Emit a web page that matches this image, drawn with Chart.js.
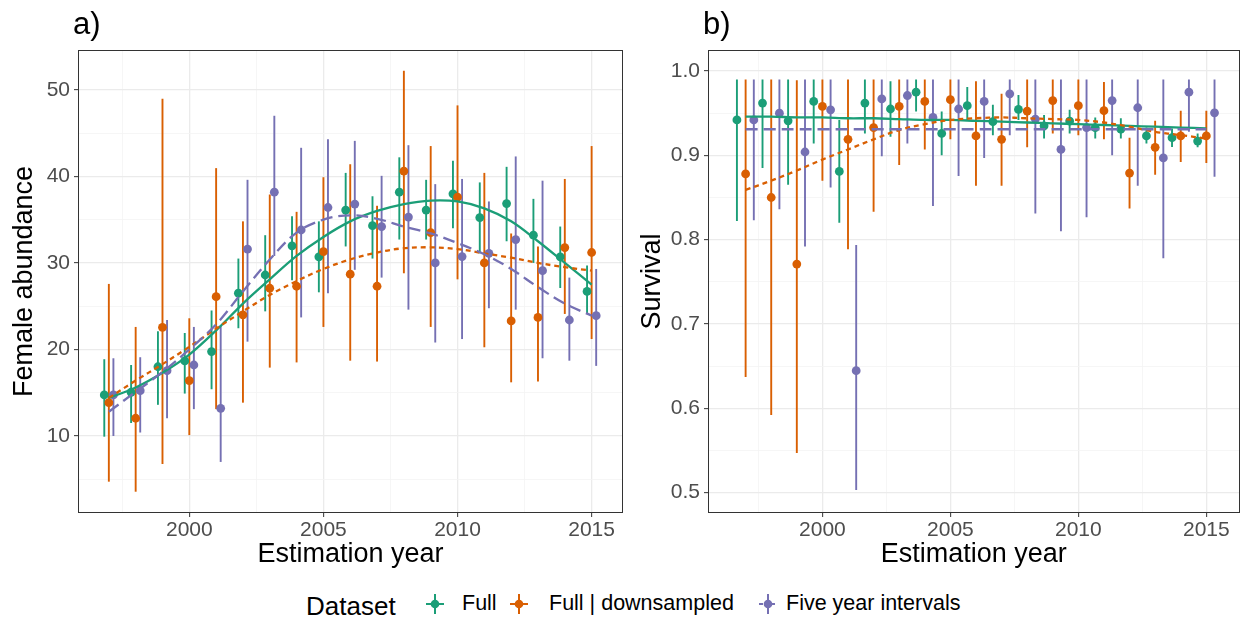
<!DOCTYPE html>
<html><head><meta charset="utf-8">
<script src="https://cdn.jsdelivr.net/npm/chart.js@4.4.1/dist/chart.umd.min.js"></script>
<style>
html,body{margin:0;padding:0;background:#fff}
body{width:1244px;height:621px;overflow:hidden;position:relative;font-family:"Liberation Sans",Arial,sans-serif}
canvas{position:absolute;top:0}
#ca{left:0}
#cb{left:630px}
.lg{position:absolute;white-space:nowrap;color:#000}
.lt{font-size:26px;line-height:30px;top:591px}
.li{font-size:21.5px;line-height:24px;top:591px}
.key{position:absolute;top:593px}
</style></head>
<body>
<canvas id="ca" width="630" height="580"></canvas>
<canvas id="cb" width="614" height="580"></canvas>
<div class="lg lt" style="left:306px">Dataset</div>
<svg class="key" style="left:424px" width="22" height="22"><line x1="2" y1="11" x2="20" y2="11" stroke="#1B9E77" stroke-width="2"/><line x1="11" y1="1" x2="11" y2="21" stroke="#1B9E77" stroke-width="2"/><circle cx="11" cy="11" r="4.3" fill="#1B9E77"/></svg>
<div class="lg li" style="left:462px">Full</div>
<svg class="key" style="left:508px" width="22" height="22"><line x1="2" y1="11" x2="20" y2="11" stroke="#D95F02" stroke-width="2"/><line x1="11" y1="1" x2="11" y2="21" stroke="#D95F02" stroke-width="2"/><circle cx="11" cy="11" r="4.3" fill="#D95F02"/></svg>
<div class="lg li" style="left:549px">Full | downsampled</div>
<svg class="key" style="left:757px" width="22" height="22"><line x1="2" y1="11" x2="20" y2="11" stroke="#7570B3" stroke-width="2" stroke-dasharray="4 2"/><line x1="11" y1="1" x2="11" y2="21" stroke="#7570B3" stroke-width="2"/><circle cx="11" cy="11" r="4.3" fill="#7570B3"/></svg>
<div class="lg li" style="left:786px">Five year intervals</div>
<script>
// ---------- data ----------
const YEARS = [1997,1998,1999,2000,2001,2002,2003,2004,2005,2006,2007,2008,2009,2010,2011,2012,2013,2014,2015];
const SERIES = ['Full','Full | downsampled','Five year intervals'];

// Panel a: Female abundance
const A_FULL_EST = [14.74,15.05,18.0,18.67,19.75,26.5,28.6,31.97,30.7,36.1,34.3,38.17,36.1,37.98,35.24,36.86,33.2,30.7,26.7];
const A_FULL_LO  = [9.92,11.5,13.6,14.9,15.4,22.45,24.4,28.0,26.6,31.9,30.5,32.7,32.7,34.0,31.1,32.5,30.0,27.1,24.1];
const A_FULL_HI  = [18.87,18.2,22.1,21.9,24.5,30.5,33.2,35.4,34.8,40.4,37.7,42.2,39.6,41.8,39.3,41.1,37.4,34.2,29.7];
const A_DOWN_EST = [13.85,12.05,22.55,16.4,26.1,24.0,27.07,27.3,31.3,28.7,27.3,40.6,33.5,37.6,30.0,23.3,23.7,31.77,31.2];
const A_DOWN_LO  = [4.72,3.56,6.76,10.1,13.1,13.85,17.9,18.5,22.6,18.7,18.6,28.8,22.6,28.1,20.25,16.2,16.3,24.1,21.2];
const A_DOWN_HI  = [27.57,22.6,48.96,23.6,40.95,34.8,37.9,35.9,39.9,41.4,36.6,52.2,43.5,48.2,40.4,33.4,31.9,39.7,43.5];
const A_FIVE_EST = [14.74,15.24,17.55,18.2,13.2,31.6,38.17,33.8,36.4,36.8,34.2,35.3,30.0,30.73,31.1,32.7,29.1,23.4,23.9];
const A_FIVE_LO  = [10.0,10.4,12.05,13.1,7.0,20.9,30.8,23.7,26.5,29.2,28.3,24.6,20.8,21.2,24.76,24.6,18.98,18.7,18.1];
const A_FIVE_HI  = [18.98,19.1,23.4,22.6,22.8,39.6,47.0,43.3,44.3,44.1,40.06,43.6,39.1,39.7,37.1,42.3,39.5,28.3,29.3];
const A_FULL_FIT = [14.4,15.6,17.3,19.4,22.2,25.3,28.1,30.8,33.0,34.8,36.0,36.8,37.2,37.1,36.3,34.8,32.5,30.0,27.5];
const A_DOWN_FIT = [14.4,16.4,18.3,20.3,22.4,24.4,26.3,27.9,29.3,30.4,31.2,31.7,31.8,31.6,31.1,30.6,30.0,29.5,29.1];
const A_FIVE_FIT = [12.8,15.1,17.4,20.0,22.9,26.7,30.4,33.5,35.0,35.5,35.1,34.2,33.4,32.3,31.0,29.3,27.2,25.3,23.9];

// Panel b: Survival
const B_FULL_EST = [0.942,0.962,0.941,0.964,0.881,0.962,0.955,0.975,0.926,0.959,0.940,0.9545,0.935,0.9407,0.933,0.931,0.923,0.921,0.917];
const B_FULL_LO  = [0.822,0.885,0.865,0.914,0.820,0.926,0.922,0.952,0.900,0.942,0.924,0.942,0.920,0.926,0.920,0.920,0.914,0.910,0.9095];
const B_FULL_HI  = [0.990,0.990,0.990,0.990,0.942,0.990,0.988,0.990,0.952,0.981,0.960,0.9715,0.948,0.954,0.945,0.944,0.933,0.932,0.926];
const B_DOWN_EST = [0.878,0.850,0.771,0.958,0.919,0.933,0.958,0.964,0.966,0.923,0.919,0.9525,0.965,0.959,0.953,0.879,0.9095,0.923,0.923];
const B_DOWN_LO  = [0.637,0.592,0.547,0.870,0.7885,0.833,0.8885,0.907,0.919,0.864,0.864,0.9095,0.926,0.924,0.919,0.837,0.877,0.892,0.891];
const B_DOWN_HI  = [0.990,0.990,0.989,0.990,0.990,0.990,0.990,0.990,0.990,0.988,0.973,0.990,0.990,0.990,0.987,0.921,0.941,0.953,0.953];
const B_FIVE_EST = [0.942,0.950,0.904,0.954,0.6445,0.967,0.971,0.945,0.955,0.964,0.973,0.943,0.907,0.933,0.965,0.9565,0.897,0.975,0.9505];
const B_FIVE_LO  = [0.823,0.836,0.792,0.862,0.503,0.899,0.914,0.840,0.8755,0.897,0.924,0.831,0.810,0.8265,0.900,0.864,0.778,0.928,0.8746];
const B_FIVE_HI  = [0.990,0.990,0.990,0.990,0.7936,0.990,0.990,0.990,0.990,0.990,0.990,0.990,0.990,0.990,0.990,0.990,0.990,0.990,0.990];
const B_FULL_FIT = [0.946,0.946,0.945,0.945,0.944,0.944,0.943,0.942,0.942,0.941,0.940,0.939,0.938,0.937,0.936,0.935,0.934,0.933,0.932];
const B_DOWN_FIT = [0.859,0.870,0.882,0.895,0.907,0.919,0.930,0.937,0.942,0.944,0.945,0.944,0.943,0.942,0.939,0.934,0.928,0.924,0.920];
const B_FIVE_FIT = [0.931,0.931,0.931,0.931,0.931,0.931,0.931,0.931,0.931,0.931,0.931,0.931,0.931,0.931,0.931,0.931,0.931,0.931,0.931];

// ticks
const X_TICKS = [2000,2005,2010,2015];
const X_MINOR = [1997.5,2002.5,2007.5,2012.5];
const A_Y_TICKS = [10,20,30,40,50];
const A_Y_MINOR = [5,15,25,35,45];
const B_Y_TICKS = [0.5,0.6,0.7,0.8,0.9,1.0];
const B_Y_MINOR = [0.55,0.65,0.75,0.85,0.95];

// ---------- style ----------
const FONT = '"Liberation Sans", Arial, sans-serif';
const COLORS = ['#1B9E77','#D95F02','#7570B3'];
const DASHES = [[],[5,4],[12,6]];

function isMajor(v, majors){ return majors.some(m => Math.abs(m - v) < 1e-6); }

function buildDatasets(sets, dodge){
  const ds = [];
  sets.forEach((s, k) => {
    ds.push({type:'bar', label:SERIES[k]+' CI', grouped:false, barThickness:1.9, borderWidth:0, inflateAmount:0,
      backgroundColor:COLORS[k], order:9-k,
      data: YEARS.map((y,i)=>({x:y+dodge[k], y:[s.lo[i], s.hi[i]]}))});
  });
  sets.forEach((s, k) => {
    ds.push({type:'scatter', label:SERIES[k], pointRadius:4.4, pointBorderWidth:0, pointBackgroundColor:COLORS[k],
      backgroundColor:COLORS[k], borderColor:COLORS[k], order:6-k, showLine:false,
      data: YEARS.map((y,i)=>({x:y+dodge[k], y:s.est[i]}))});
  });
  sets.forEach((s, k) => {
    ds.push({type:'line', label:SERIES[k]+' fit', borderColor:COLORS[k], borderWidth:2.3, borderDash:DASHES[k],
      pointRadius:0, tension:0.35, fill:false, order:3-k,
      data: YEARS.map((y,i)=>({x:y, y:s.fit[i]}))});
  });
  return ds;
}

function panelPlugin(label){
  return {
    id:'panel'+label,
    afterDraw(chart){
      const {ctx, chartArea:a} = chart;
      ctx.save();
      ctx.strokeStyle = '#333333'; ctx.lineWidth = 1;
      ctx.strokeRect(Math.round(a.left)+0.5, Math.round(a.top)+0.5, Math.round(a.right-a.left)-1, Math.round(a.bottom-a.top)-1);
      ctx.fillStyle = '#000'; ctx.font = '31px ' + FONT; ctx.textBaseline = 'alphabetic'; ctx.textAlign = 'left';
      ctx.fillText(label, a.left - 5, 33.5);
      ctx.restore();
    }
  };
}

function makeChart(id, sets, dodge, cfg){
  const yMajors = cfg.yTicks, yAll = cfg.yTicks.concat(cfg.yMinor).sort((a,b)=>a-b);
  const xAll = X_TICKS.concat(X_MINOR).sort((a,b)=>a-b);
  return new Chart(document.getElementById(id), {
    type:'scatter',
    data:{datasets: buildDatasets(sets, dodge)},
    plugins:[panelPlugin(cfg.label)],
    options:{
      responsive:false, animation:false, events:[],
      layout:{padding:{top:50, right:cfg.padRight, bottom:0, left:0}},
      plugins:{legend:{display:false}, tooltip:{enabled:false}},
      scales:{
        x:{type:'linear', min:cfg.xMin, max:cfg.xMax, offset:false,
          afterBuildTicks: s => { s.ticks = xAll.map(v => ({value:v})); },
          afterFit: s => { s.height = 67; },
          ticks:{autoSkip:false, maxRotation:0, minRotation:0, color:'#4D4D4D', padding:1,
            font:{size:21, family:FONT},
            callback: v => isMajor(v, X_TICKS) ? String(v) : ''},
          grid:{offset:false, drawTicks:true, tickLength:4,
            color: c => isMajor(c.tick.value, X_TICKS) ? '#EBEBEB' : '#F4F4F4',
            lineWidth: c => isMajor(c.tick.value, X_TICKS) ? 1.3 : 0.8,
            tickColor: c => isMajor(c.tick.value, X_TICKS) ? '#333333' : 'rgba(0,0,0,0)',
            tickWidth: 1},
          border:{display:false},
          title:{display:true, text:'Estimation year', color:'#000', font:{size:27, family:FONT}, padding:{top:0, bottom:8.8}}
        },
        y:{type:'linear', min:cfg.yMin, max:cfg.yMax,
          afterBuildTicks: s => { s.ticks = yAll.map(v => ({value:v})); },
          afterFit: s => { s.width = 78; },
          ticks:{autoSkip:false, color:'#4D4D4D', padding:4, font:{size:21, family:FONT},
            callback: v => isMajor(v, yMajors) ? cfg.fmt(v) : ''},
          grid:{drawTicks:true, tickLength:4,
            color: c => isMajor(c.tick.value, yMajors) ? '#EBEBEB' : '#F4F4F4',
            lineWidth: c => isMajor(c.tick.value, yMajors) ? 1.3 : 0.8,
            tickColor: c => isMajor(c.tick.value, yMajors) ? '#333333' : 'rgba(0,0,0,0)',
            tickWidth: 1},
          border:{display:false},
          title:{display:true, text:cfg.yTitle, color:'#000', font:{size:27, family:FONT}, padding:{top:cfg.yTitlePad, bottom:0}}
        }
      }
    }
  });
}

makeChart('ca', [
  {est:A_FULL_EST, lo:A_FULL_LO, hi:A_FULL_HI, fit:A_FULL_FIT},
  {est:A_DOWN_EST, lo:A_DOWN_LO, hi:A_DOWN_HI, fit:A_DOWN_FIT},
  {est:A_FIVE_EST, lo:A_FIVE_LO, hi:A_FIVE_HI, fit:A_FIVE_FIT}
], [-0.17, 0, 0.17], {
  label:'a)', xMin:1995.85, xMax:2016.17, yMin:1.1, yMax:54.6, padRight:7,
  yTicks:A_Y_TICKS, yMinor:A_Y_MINOR, fmt: v => String(v), yTitle:'Female abundance', yTitlePad:7.9
});

makeChart('cb', [
  {est:B_FULL_EST, lo:B_FULL_LO, hi:B_FULL_HI, fit:B_FULL_FIT},
  {est:B_DOWN_EST, lo:B_DOWN_LO, hi:B_DOWN_HI, fit:B_DOWN_FIT},
  {est:B_FIVE_EST, lo:B_FIVE_LO, hi:B_FIVE_HI, fit:B_FIVE_FIT}
], [-0.34, 0, 0.32], {
  label:'b)', xMin:1995.53, xMax:2016.3, yMin:0.4757, yMax:1.025, padRight:1.3,
  yTicks:B_Y_TICKS, yMinor:B_Y_MINOR, fmt: v => v.toFixed(1), yTitle:'Survival', yTitlePad:6.3
});
</script>
</body></html>
